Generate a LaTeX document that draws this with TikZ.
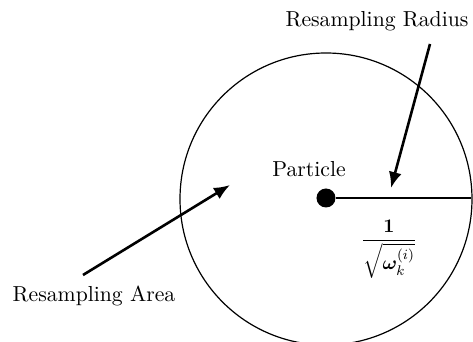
\documentclass[tikz,border=0pt]{standalone}
\usepackage{amsmath,bm}
\usetikzlibrary{arrows.meta}
\begin{document}
\begin{tikzpicture}[x=0.5pt,y=-0.5pt,
  lbl/.style={font=\fontsize{10.85pt}{13pt}\selectfont, inner sep=0pt},
  pointer/.style={line width=1.3pt,-{Latex[length=8pt,width=6.5pt]}}]
\useasboundingbox (0,0) rectangle (473,342);
\node[circle,draw,line width=0.6pt,minimum size=146pt,inner sep=0pt] (area) at (326,199) {};
\node[circle,fill,minimum size=9.5pt,inner sep=0pt] (p) at (326,198) {};
\coordinate (rim) at (471.5,198);
\draw[line width=1.3pt] (p) -- (rim);
\node[lbl,anchor=base] (tr) at (377,27) {Resampling Radius};
\node[lbl,anchor=base] (tp) at (309,177) {Particle};
\node[lbl,anchor=base] (ta) at (94,302) {Resampling Area};
\node[lbl] (frac) at (389,249) {\scalebox{0.88}{$\dfrac{\mathbf{1}}{\sqrt{\bm{\omega}_k^{(i)}}}$}};
\coordinate (rs) at (430,44);
\coordinate (re) at (391,188);
\coordinate (as) at (83,275);
\coordinate (ae) at (230,185);
\draw[pointer] (rs) -- (re);
\draw[pointer] (as) -- (ae);
\end{tikzpicture}
\end{document}
